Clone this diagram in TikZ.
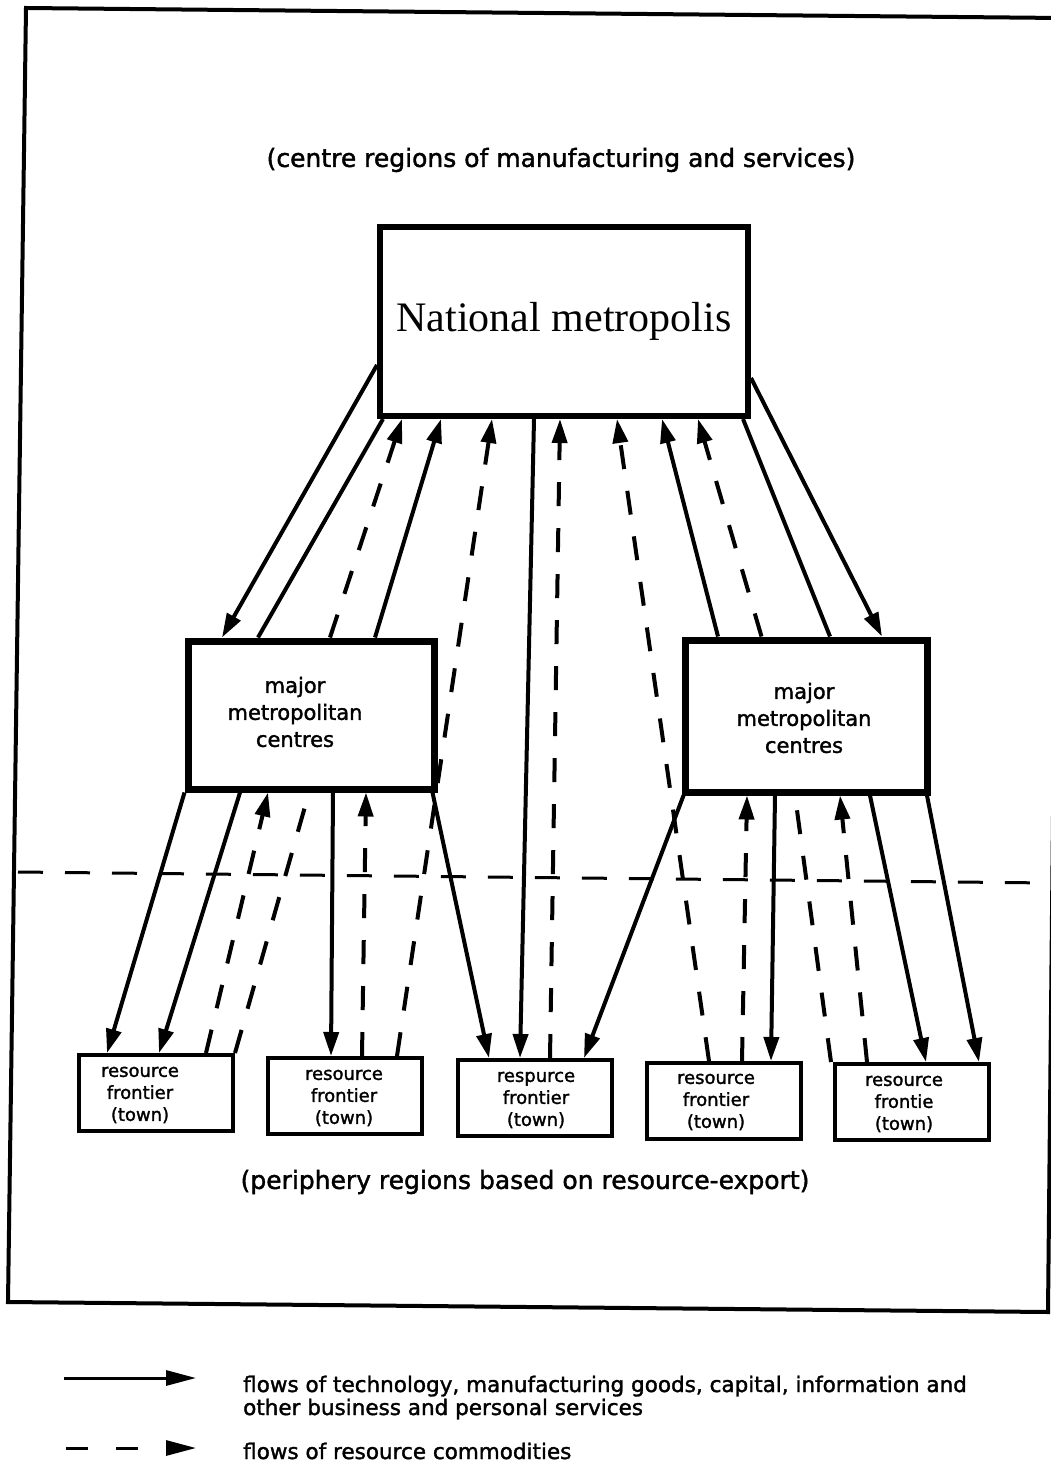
\documentclass[tikz,border=0pt]{standalone}
\usepackage{fontspec}
\setmainfont{DejaVu Sans}[FakeBold=1.6]
\newfontfamily\serifnm{Liberation Serif}
\usetikzlibrary{arrows.meta,calc}
\begin{document}
\begin{tikzpicture}[x=1pt,y=-1pt,
  bigbox/.style={draw, line width=6pt, minimum width=368pt, minimum height=189pt, inner sep=0pt},
  majbox/.style={draw, line width=7pt, inner sep=0pt},
  townbox/.style={draw, line width=4pt, minimum width=154pt, minimum height=76pt, inner sep=0pt},
  boxtxt/.style={align=center, font=\fontsize{21}{27}\selectfont, inner sep=0pt},
  towntxt/.style={align=center, font=\fontsize{18}{22}\selectfont, inner sep=0pt},
  lbl/.style={font=\fontsize{25}{30}\selectfont, inner sep=0pt},
  legtxt/.style={font=\fontsize{21.5}{23}\selectfont, inner sep=0pt, anchor=base west},
  flow/.style={line width=4pt, -{Triangle[length=24pt,width=15pt]}},
  flowline/.style={line width=4pt},
  res/.style={line width=4pt, dash pattern=on 24pt off 22pt, -{Triangle[length=24pt,width=15pt]}},
  resline/.style={line width=4pt, dash pattern=on 24pt off 22pt},
]
\useasboundingbox (0,0) rectangle (1051,1466);
\clip (0,0) rectangle (1051,1466);

% frame
\draw[line width=4pt] (26,8) -- (1061,18) -- (1048,1312) -- (8,1302) -- cycle;

% labels
\node[lbl] (toplbl) at (561,160) {(centre regions of manufacturing and services)};
\node[lbl] (botlbl) at (525,1182) {(periphery regions based on resource-export)};

% boxes
\node[bigbox, font=\serifnm\fontsize{42}{50}\selectfont] (nm) at (564,321.5) {National metropolis};
\node[majbox, minimum width=246pt, minimum height=148pt] (lm) at (311,715) {};
\node[majbox, minimum width=242pt, minimum height=152pt] (rm) at (806,716) {};
\node[boxtxt] (lmt) at (295,712) {major\\metropolitan\\centres};
\node[boxtxt] (rmt) at (804,718) {major\\metropolitan\\centres};

\node[townbox] (f1) at (156,1093) {};
\node[townbox] (f2) at (345,1096) {};
\node[townbox] (f3) at (535,1098) {};
\node[townbox] (f4) at (724,1101) {};
\node[townbox] (f5) at (912,1102) {};
\node[towntxt] (f1t) at (140,1095) {resource\\frontier\\(town)};
\node[towntxt] (f2t) at (344,1098) {resource\\frontier\\(town)};
\node[towntxt] (f3t) at (536,1100) {respurce\\frontier\\(town)};
\node[towntxt] (f4t) at (716,1102) {resource\\frontier\\(town)};
\node[towntxt] (f5t) at (904,1104) {resource\\frontie\\(town)};

% divider
\coordinate (dvA) at (18,872);
\coordinate (dvB) at (1051,883);
\draw[line width=3pt, dash pattern=on 25pt off 22pt] (dvA) -- (dvB);

% national metropolis <-> major centres / towns
\draw[flow] ($(nm.south west)+(0,-54)$) -- ($(lm.north west)+(37.5,0)$);
\draw[flowline] ($(lm.north west)+(73.5,0)$) -- ($(nm.south west)+(6,0)$);
\draw[res] ($(lm.north west)+(145.5,0)$) -- ($(nm.south west)+(25,0)$);
\draw[flow] ($(lm.north west)+(190.5,0)$) -- ($(nm.south west)+(64,0)$);
\draw[res] ($(f2.north west)+(131,0)$) -- ($(nm.south west)+(115,0)$);
\draw[flow] ($(nm.south west)+(157,0)$) -- ($(f3.north west)+(64,0)$);
\draw[res] ($(f3.north west)+(94,0)$) -- ($(nm.south west)+(183,0)$);
\draw[res] ($(f4.north west)+(64,0)$) -- ($(nm.south west)+(240,0)$);
\draw[flow] ($(rm.north west)+(36.5,0)$) -- ($(nm.south west)+(285,0)$);
\draw[res] ($(rm.north west)+(80,0)$) -- ($(nm.south west)+(321,0)$);
\draw[flowline] ($(nm.south east)+(-8,0)$) -- ($(rm.north west)+(148.5,0)$);
\draw[flow] ($(nm.south east)+(0,-41)$) -- ($(rm.north west)+(200.5,0)$);

% left major centres <-> towns
\draw[flow] (lm.south west) -- ($(f1.north west)+(30,0)$);
\draw[flow] ($(lm.south west)+(55.5,0)$) -- ($(f1.north west)+(82,0)$);
\draw[res] ($(f1.north west)+(129,0)$) -- ($(lm.south west)+(83.5,0)$);
\draw[resline] (f1.north east) -- ($(lm.south west)+(124.5,0)$);
\draw[flow] ($(lm.south west)+(148.5,0)$) -- ($(f2.north west)+(65,0)$);
\draw[res] ($(f2.north west)+(96,0)$) -- ($(lm.south west)+(181.5,0)$);
\draw[flow] ($(lm.south east)+(-5,0)$) -- ($(f3.north west)+(33,0)$);

% right major centres <-> towns
\draw[flow] ($(rm.south west)+(2,0)$) -- ($(f3.north east)+(-30,0)$);
\draw[res] ($(f4.north west)+(97,0)$) -- ($(rm.south west)+(65.5,0)$);
\draw[flow] ($(rm.south west)+(93.5,0)$) -- ($(f4.north west)+(126,0)$);
\draw[resline] ($(f5.north west)+(-2,0)$) -- ($(rm.south west)+(113.5,0)$);
\draw[res] ($(f5.north west)+(34,0)$) -- ($(rm.south west)+(158.5,0)$);
\draw[flow] ($(rm.south west)+(188.5,0)$) -- ($(f5.north west)+(93,0)$);
\draw[flow] ($(rm.south east)+(-3.5,0)$) -- ($(f5.north west)+(146,0)$);

% legend
\coordinate (lg1a) at (64,1378);
\coordinate (lg1b) at (196,1378);
\coordinate (lg2a) at (66,1448);
\coordinate (lg2b) at (196,1448);
\draw[line width=3pt, -{Triangle[length=30pt,width=15pt]}] (lg1a) -- (lg1b);
\draw[line width=3pt, dash pattern=on 22pt off 28pt, -{Triangle[length=30pt,width=15pt]}] (lg2a) -- (lg2b);
\node[legtxt] (lgt1) at (243,1392) {flows of technology, manufacturing goods, capital, information and};
\node[legtxt] (lgt2) at (243,1415) {other business and personal services};
\node[legtxt] (lgt3) at (243,1459) {flows of resource commodities};
\end{tikzpicture}
\end{document}
